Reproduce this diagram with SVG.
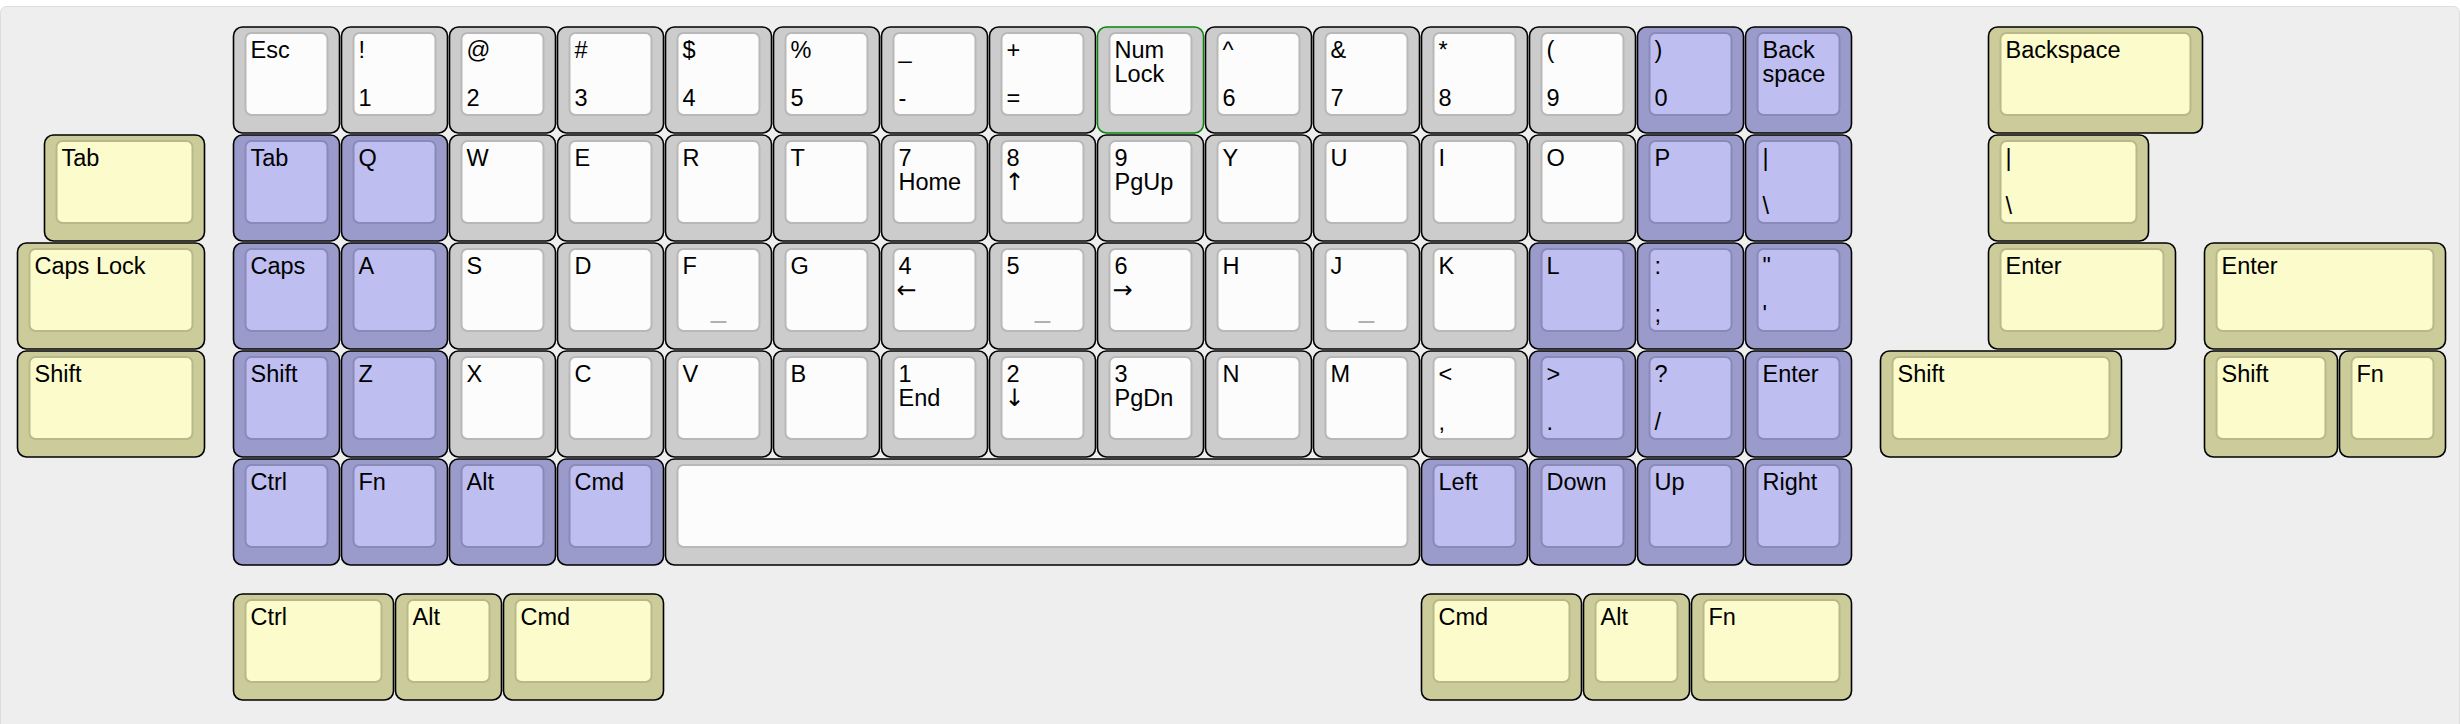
<svg xmlns="http://www.w3.org/2000/svg" xmlns:xlink="http://www.w3.org/1999/xlink" width="2460" height="724" viewBox="0 0 2460 724">
<style>
.o{stroke:#000;stroke-width:1.6}
.gs{fill:#cccccc}.gf{fill:#fcfcfc;stroke:#b8b8b8;stroke-width:2}
.ps{fill:#9a9acb}.pf{fill:#bebef0;stroke:#8a8ab8;stroke-width:2}
.ys{fill:#cccc9a}.yf{fill:#fbfbcb;stroke:#b8b88a;stroke-width:2}
text{font-family:"Liberation Sans",Arial,Helvetica,sans-serif;font-size:23.5px;fill:#000}
text.ar{font-family:"DejaVu Sans","Liberation Sans",sans-serif;font-size:24px}
.bar{stroke:#b0b0b0;stroke-width:2}
</style>
<defs>
<g id="g1"><rect class="o gs" x="1" y="1" width="106" height="106" rx="9"/><rect class="gf" x="13" y="7" width="82" height="82" rx="6"/></g>
<g id="p1"><rect class="o ps" x="1" y="1" width="106" height="106" rx="9"/><rect class="pf" x="13" y="7" width="82" height="82" rx="6"/></g>
<g id="y1"><rect class="o ys" x="1" y="1" width="106" height="106" rx="9"/><rect class="yf" x="13" y="7" width="82" height="82" rx="6"/></g>
<g id="y125"><rect class="o ys" x="1" y="1" width="133" height="106" rx="9"/><rect class="yf" x="13" y="7" width="109" height="82" rx="6"/></g>
<g id="y15"><rect class="o ys" x="1" y="1" width="160" height="106" rx="9"/><rect class="yf" x="13" y="7" width="136" height="82" rx="6"/></g>
<g id="y175"><rect class="o ys" x="1" y="1" width="187" height="106" rx="9"/><rect class="yf" x="13" y="7" width="163" height="82" rx="6"/></g>
<g id="y2"><rect class="o ys" x="1" y="1" width="214" height="106" rx="9"/><rect class="yf" x="13" y="7" width="190" height="82" rx="6"/></g>
<g id="y225"><rect class="o ys" x="1" y="1" width="241" height="106" rx="9"/><rect class="yf" x="13" y="7" width="217" height="82" rx="6"/></g>
<g id="g7"><rect class="o gs" x="1" y="1" width="754" height="106" rx="9"/><rect class="gf" x="13" y="7" width="730" height="82" rx="6"/></g>
<line id="hb" class="bar" x1="46" y1="80" x2="62" y2="80"/>
</defs>
<rect x="0" y="0" width="2460" height="724" fill="#ffffff"/>
<rect x="0.5" y="6.5" width="2459" height="760" rx="6" fill="#eeeeee" stroke="#dddddd" stroke-width="1"/>

<!-- Row 0 -->
<g id="k-esc" transform="translate(232.5,26)"><use href="#g1"/><text x="18" y="31.5">Esc</text></g>
<g id="k-1" transform="translate(340.5,26)"><use href="#g1"/><text x="18" y="31.5">!</text><text x="18" y="80">1</text></g>
<g id="k-2" transform="translate(448.5,26)"><use href="#g1"/><text x="18" y="31.5">@</text><text x="18" y="80">2</text></g>
<g id="k-3" transform="translate(556.5,26)"><use href="#g1"/><text x="18" y="31.5">#</text><text x="18" y="80">3</text></g>
<g id="k-4" transform="translate(664.5,26)"><use href="#g1"/><text x="18" y="31.5">$</text><text x="18" y="80">4</text></g>
<g id="k-5" transform="translate(772.5,26)"><use href="#g1"/><text x="18" y="31.5">%</text><text x="18" y="80">5</text></g>
<g id="k-minus" transform="translate(880.5,26)"><use href="#g1"/><text x="18" y="31.5">_</text><text x="18" y="80">-</text></g>
<g id="k-equal" transform="translate(988.5,26)"><use href="#g1"/><text x="18" y="31.5">+</text><text x="18" y="80">=</text></g>
<g id="k-numlock" transform="translate(1096.5,26)"><rect class="gs" x="1" y="1" width="106" height="106" rx="9" stroke="#0a840a" stroke-width="1.5"/><rect class="gf" x="13" y="7" width="82" height="82" rx="6"/><text x="18" y="31.5">Num</text><text x="18" y="56">Lock</text></g>
<g id="k-6" transform="translate(1204.5,26)"><use href="#g1"/><text x="18" y="31.5">^</text><text x="18" y="80">6</text></g>
<g id="k-7" transform="translate(1312.5,26)"><use href="#g1"/><text x="18" y="31.5">&amp;</text><text x="18" y="80">7</text></g>
<g id="k-8" transform="translate(1420.5,26)"><use href="#g1"/><text x="18" y="31.5">*</text><text x="18" y="80">8</text></g>
<g id="k-9" transform="translate(1528.5,26)"><use href="#g1"/><text x="18" y="31.5">(</text><text x="18" y="80">9</text></g>
<g id="k-0" transform="translate(1636.5,26)"><use href="#p1"/><text x="18" y="31.5">)</text><text x="18" y="80">0</text></g>
<g id="k-bksp" transform="translate(1744.5,26)"><use href="#p1"/><text x="18" y="31.5">Back</text><text x="18" y="56">space</text></g>

<!-- Row 1 -->
<g id="k-tab" transform="translate(232.5,134)"><use href="#p1"/><text x="18" y="31.5">Tab</text></g>
<g id="k-q" transform="translate(340.5,134)"><use href="#p1"/><text x="18" y="31.5">Q</text></g>
<g id="k-w" transform="translate(448.5,134)"><use href="#g1"/><text x="18" y="31.5">W</text></g>
<g id="k-e" transform="translate(556.5,134)"><use href="#g1"/><text x="18" y="31.5">E</text></g>
<g id="k-r" transform="translate(664.5,134)"><use href="#g1"/><text x="18" y="31.5">R</text></g>
<g id="k-t" transform="translate(772.5,134)"><use href="#g1"/><text x="18" y="31.5">T</text></g>
<g id="k-n7" transform="translate(880.5,134)"><use href="#g1"/><text x="18" y="31.5">7</text><text x="18" y="56">Home</text></g>
<g id="k-n8" transform="translate(988.5,134)"><use href="#g1"/><text x="18" y="31.5">8</text><text class="ar" x="16" y="56">↑</text></g>
<g id="k-n9" transform="translate(1096.5,134)"><use href="#g1"/><text x="18" y="31.5">9</text><text x="18" y="56">PgUp</text></g>
<g id="k-y" transform="translate(1204.5,134)"><use href="#g1"/><text x="18" y="31.5">Y</text></g>
<g id="k-u" transform="translate(1312.5,134)"><use href="#g1"/><text x="18" y="31.5">U</text></g>
<g id="k-i" transform="translate(1420.5,134)"><use href="#g1"/><text x="18" y="31.5">I</text></g>
<g id="k-o" transform="translate(1528.5,134)"><use href="#g1"/><text x="18" y="31.5">O</text></g>
<g id="k-p" transform="translate(1636.5,134)"><use href="#p1"/><text x="18" y="31.5">P</text></g>
<g id="k-bslash" transform="translate(1744.5,134)"><use href="#p1"/><text x="18" y="31.5">|</text><text x="18" y="80">\</text></g>

<!-- Row 2 -->
<g id="k-caps" transform="translate(232.5,242)"><use href="#p1"/><text x="18" y="31.5">Caps</text></g>
<g id="k-a" transform="translate(340.5,242)"><use href="#p1"/><text x="18" y="31.5">A</text></g>
<g id="k-s" transform="translate(448.5,242)"><use href="#g1"/><text x="18" y="31.5">S</text></g>
<g id="k-d" transform="translate(556.5,242)"><use href="#g1"/><text x="18" y="31.5">D</text></g>
<g id="k-f" transform="translate(664.5,242)"><use href="#g1"/><use href="#hb"/><text x="18" y="31.5">F</text></g>
<g id="k-g" transform="translate(772.5,242)"><use href="#g1"/><text x="18" y="31.5">G</text></g>
<g id="k-n4" transform="translate(880.5,242)"><use href="#g1"/><text x="18" y="31.5">4</text><text class="ar" x="16" y="56">←</text></g>
<g id="k-n5" transform="translate(988.5,242)"><use href="#g1"/><use href="#hb"/><text x="18" y="31.5">5</text></g>
<g id="k-n6" transform="translate(1096.5,242)"><use href="#g1"/><text x="18" y="31.5">6</text><text class="ar" x="16" y="56">→</text></g>
<g id="k-h" transform="translate(1204.5,242)"><use href="#g1"/><text x="18" y="31.5">H</text></g>
<g id="k-j" transform="translate(1312.5,242)"><use href="#g1"/><use href="#hb"/><text x="18" y="31.5">J</text></g>
<g id="k-k" transform="translate(1420.5,242)"><use href="#g1"/><text x="18" y="31.5">K</text></g>
<g id="k-l" transform="translate(1528.5,242)"><use href="#p1"/><text x="18" y="31.5">L</text></g>
<g id="k-semi" transform="translate(1636.5,242)"><use href="#p1"/><text x="18" y="31.5">:</text><text x="18" y="80">;</text></g>
<g id="k-quote" transform="translate(1744.5,242)"><use href="#p1"/><text x="18" y="31.5">"</text><text x="18" y="80">'</text></g>

<!-- Row 3 -->
<g id="k-shift" transform="translate(232.5,350)"><use href="#p1"/><text x="18" y="31.5">Shift</text></g>
<g id="k-z" transform="translate(340.5,350)"><use href="#p1"/><text x="18" y="31.5">Z</text></g>
<g id="k-x" transform="translate(448.5,350)"><use href="#g1"/><text x="18" y="31.5">X</text></g>
<g id="k-c" transform="translate(556.5,350)"><use href="#g1"/><text x="18" y="31.5">C</text></g>
<g id="k-v" transform="translate(664.5,350)"><use href="#g1"/><text x="18" y="31.5">V</text></g>
<g id="k-b" transform="translate(772.5,350)"><use href="#g1"/><text x="18" y="31.5">B</text></g>
<g id="k-n1" transform="translate(880.5,350)"><use href="#g1"/><text x="18" y="31.5">1</text><text x="18" y="56">End</text></g>
<g id="k-n2" transform="translate(988.5,350)"><use href="#g1"/><text x="18" y="31.5">2</text><text class="ar" x="16" y="56">↓</text></g>
<g id="k-n3" transform="translate(1096.5,350)"><use href="#g1"/><text x="18" y="31.5">3</text><text x="18" y="56">PgDn</text></g>
<g id="k-n" transform="translate(1204.5,350)"><use href="#g1"/><text x="18" y="31.5">N</text></g>
<g id="k-m" transform="translate(1312.5,350)"><use href="#g1"/><text x="18" y="31.5">M</text></g>
<g id="k-comma" transform="translate(1420.5,350)"><use href="#g1"/><text x="18" y="31.5">&lt;</text><text x="18" y="80">,</text></g>
<g id="k-period" transform="translate(1528.5,350)"><use href="#p1"/><text x="18" y="31.5">&gt;</text><text x="18" y="80">.</text></g>
<g id="k-slash" transform="translate(1636.5,350)"><use href="#p1"/><text x="18" y="31.5">?</text><text x="18" y="80">/</text></g>
<g id="k-enter" transform="translate(1744.5,350)"><use href="#p1"/><text x="18" y="31.5">Enter</text></g>

<!-- Row 4 -->
<g id="k-ctrl" transform="translate(232.5,458)"><use href="#p1"/><text x="18" y="31.5">Ctrl</text></g>
<g id="k-fn" transform="translate(340.5,458)"><use href="#p1"/><text x="18" y="31.5">Fn</text></g>
<g id="k-alt" transform="translate(448.5,458)"><use href="#p1"/><text x="18" y="31.5">Alt</text></g>
<g id="k-cmd" transform="translate(556.5,458)"><use href="#p1"/><text x="18" y="31.5">Cmd</text></g>
<g id="k-space" transform="translate(664.5,458)"><use href="#g7"/></g>
<g id="k-left" transform="translate(1420.5,458)"><use href="#p1"/><text x="18" y="31.5">Left</text></g>
<g id="k-down" transform="translate(1528.5,458)"><use href="#p1"/><text x="18" y="31.5">Down</text></g>
<g id="k-up" transform="translate(1636.5,458)"><use href="#p1"/><text x="18" y="31.5">Up</text></g>
<g id="k-right" transform="translate(1744.5,458)"><use href="#p1"/><text x="18" y="31.5">Right</text></g>

<!-- Alternative (yellow) keys -->
<g id="a-tab" transform="translate(43.5,134)"><use href="#y15"/><text x="18" y="31.5">Tab</text></g>
<g id="a-caps" transform="translate(16.5,242)"><use href="#y175"/><text x="18" y="31.5">Caps Lock</text></g>
<g id="a-lshift" transform="translate(16.5,350)"><use href="#y175"/><text x="18" y="31.5">Shift</text></g>
<g id="a-lctrl" transform="translate(232.5,593)"><use href="#y15"/><text x="18" y="31.5">Ctrl</text></g>
<g id="a-lalt" transform="translate(394.5,593)"><use href="#y1"/><text x="18" y="31.5">Alt</text></g>
<g id="a-lcmd" transform="translate(502.5,593)"><use href="#y15"/><text x="18" y="31.5">Cmd</text></g>
<g id="a-rcmd" transform="translate(1420.5,593)"><use href="#y15"/><text x="18" y="31.5">Cmd</text></g>
<g id="a-ralt" transform="translate(1582.5,593)"><use href="#y1"/><text x="18" y="31.5">Alt</text></g>
<g id="a-rfn" transform="translate(1690.5,593)"><use href="#y15"/><text x="18" y="31.5">Fn</text></g>
<g id="a-bksp" transform="translate(1987.5,26)"><use href="#y2"/><text x="18" y="31.5">Backspace</text></g>
<g id="a-bslash" transform="translate(1987.5,134)"><use href="#y15"/><text x="18" y="31.5">|</text><text x="18" y="80">\</text></g>
<g id="a-enter1" transform="translate(1987.5,242)"><use href="#y175"/><text x="18" y="31.5">Enter</text></g>
<g id="a-rshift1" transform="translate(1879.5,350)"><use href="#y225"/><text x="18" y="31.5">Shift</text></g>
<g id="a-enter2" transform="translate(2203.5,242)"><use href="#y225"/><text x="18" y="31.5">Enter</text></g>
<g id="a-rshift2" transform="translate(2203.5,350)"><use href="#y125"/><text x="18" y="31.5">Shift</text></g>
<g id="a-fn2" transform="translate(2338.5,350)"><use href="#y1"/><text x="18" y="31.5">Fn</text></g>
</svg>
